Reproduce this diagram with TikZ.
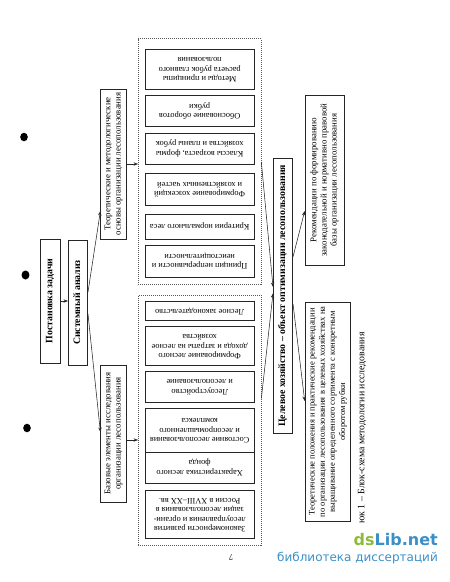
\documentclass[tikz,border=0pt]{standalone}
\usepackage{fontspec}
\usepackage{graphicx}
\setmainfont{Liberation Serif}
\newfontfamily\wmfont{DejaVu Sans}
\usetikzlibrary{arrows.meta,calc}
\definecolor{dsgreen}{HTML}{8DBB3C}
\definecolor{dsblue}{HTML}{3A8FC8}
\newcommand{\vtext}[1]{\rotatebox{90}{\begin{tabular}{@{}c@{}}#1\end{tabular}}}
\newcommand{\utext}[1]{\rotatebox{180}{\begin{tabular}{@{}c@{}}#1\end{tabular}}}
\begin{document}
\begin{tikzpicture}[x=1pt,y=-1pt,
  box/.style={draw=black!85, line width=0.6pt, inner sep=0pt, rectangle},
  cont/.style={draw=black!65, line width=0.6pt, dash pattern=on 1pt off 1pt, inner sep=0pt, rectangle},
  conn/.style={draw=black!85, line width=0.55pt, -{Stealth[length=4.5pt,width=3.4pt]}},
  bold/.style={font=\bfseries\fontsize{9.8}{11}\selectfont},
  side/.style={font=\fontsize{8.8}{10.2}\selectfont},
  inner/.style={box, minimum width=109.3pt, font=\fontsize{8.3}{9.6}\selectfont},
  ]
\useasboundingbox (0,0) rectangle (450,582);

% scan blobs
\fill (24,137) ellipse (3.8pt and 4.3pt);
\fill (25.5,275) ellipse (4pt and 4.5pt);
\fill (27,428) ellipse (3.8pt and 4.3pt);

% left column
\node[box, bold, minimum width=19.5pt, minimum height=124pt] (post) at (50.3,301) {\vtext{Постановка задачи}};
\node[box, bold, minimum width=19.4pt, minimum height=125pt] (sys) at (78,302.5) {\vtext{Системный анализ}};

\node[box, side, minimum width=25.6pt, minimum height=150pt] (teo) at (113.5,164) {\vtext{Теоретические и методологические\\основы организации лесопользования}};
\node[box, side, minimum width=25.6pt, minimum height=137pt] (bas) at (113.5,433.5) {\vtext{Базовые элементы исследования\\организации лесопользования}};

% containers
\node[cont, minimum width=122.7pt, minimum height=245.3pt] (topc) at (199.7,161.3) {};
\node[cont, minimum width=122.7pt, minimum height=250.2pt] (botc) at (199.7,420.3) {};

% top inner boxes
\node[inner, minimum height=40.3pt] (t1) at (199.7,69.2) {\utext{Методы и принципы\\расчета рубок главного\\пользования}};
\node[inner, minimum height=31.4pt] (t2) at (199.7,110.9) {\utext{Обоснование оборотов\\рубки}};
\node[inner, minimum height=31.4pt] (t3) at (199.7,148.5) {\utext{Классы возраста, формы\\хозяйства и планы рубок}};
\node[inner, minimum height=31.4pt] (t4) at (199.7,189.1) {\utext{Формирование хозсекций\\и хозяйственных частей}};
\node[inner, minimum height=25pt] (t5) at (199.7,226.5) {\utext{Критерии нормального леса}};
\node[inner, minimum height=31.4pt] (t6) at (199.7,261.1) {\utext{Принцип непрерывности и\\неистощительности}};

% bottom inner boxes
\node[inner, minimum height=18.5pt] (b1) at (199.7,311) {\utext{Лесное законодательство}};
\node[inner, minimum height=38.7pt] (b2) at (199.7,346) {\utext{Формирование лесного\\дохода и затраты на лесное\\хозяйства}};
\node[inner, minimum height=31.4pt] (b3) at (199.7,386.5) {\utext{Лесоустройство\\и лесопользование}};
\node[inner, minimum height=43.5pt] (b4) at (199.7,430.25) {\utext{Состояние лесопользования\\и лесопромышленного\\комплекса}};
\node[inner, minimum height=31.4pt] (b5) at (199.7,467.7) {\utext{Характеристика лесного\\фонда}};
\node[inner, minimum height=48.7pt] (b6) at (199.7,514.35) {\utext{Закономерности развития\\лесоуправления и органи-\\зации лесопользования в\\России в XVIII–XX вв.}};

% target
\node[box, bold, minimum width=19.4pt, minimum height=275.6pt] (cel) at (283,295.8) {\vtext{Целевое хозяйство – объект оптимизации лесопользования}};

% right boxes
\node[box, side, minimum width=39pt, minimum height=169.8pt] (rec) at (324.5,180.1) {\vtext{Рекомендации по формированию\\законодательной и нормативно правовой\\базы организации лесопользования}};
\node[box, font=\fontsize{8.5}{10.2}\selectfont, minimum width=45.7pt, minimum height=218.4pt] (teop) at (327.85,411.8) {\vtext{Теоретические положения и практические рекомендации\\по организации лесопользования в целевых хозяйствах на\\выращивание определенного сортимента с конкретным\\оборотом рубки}};

% caption, page number, watermark
\node[rotate=90, font=\fontsize{9.8}{11}\selectfont] (cap) at (362,428) {юк 1 – Блок-схема методологии исследования};
\node[rotate=180, font=\fontsize{8.5}{9}\selectfont] (pg) at (231,557) {7};
\node[anchor=north east, inner sep=0pt, font=\wmfont\bfseries\fontsize{16}{18}\selectfont] (wm1) at (438,533) {\textcolor{dsgreen}{ds}\textcolor{dsblue}{Lib.net}};
\node[anchor=north east, inner sep=0pt, font=\wmfont\fontsize{12}{14}\selectfont, text=dsblue] (wm2) at (438,552) {библиотека диссертаций};

% connectors
\draw[conn] (post.east) -- (post.east -| sys.west);
\draw[conn] ($(sys.east)+(0,-10.5)$) -- ($(teo.west)+(0,47)$);
\draw[conn] ($(sys.east)+(0,11.5)$) -- ($(bas.west)+(0,-1.5)$);
\draw[conn] (teo.east) -- (teo.east -| topc.west);
\draw[conn] ($(bas.east)+(0,6.5)$) -- ($(botc.west)+(0,19.7)$);
\draw[conn] ($(topc.east)+(0,0.7)$) -- ($(cel.west)+(0,-8.8)$);
\draw[conn] ($(botc.east)+(0,-21.8)$) -- ($(cel.west)+(0,-2.5)$);
\draw[conn] ($(cel.east)+(0,-39)$) -- ($(rec.west)+(0,31)$);
\draw[conn] ($(cel.east)+(0,8)$) -- ($(teop.west)+(0,-10.8)$);
\end{tikzpicture}
\end{document}
